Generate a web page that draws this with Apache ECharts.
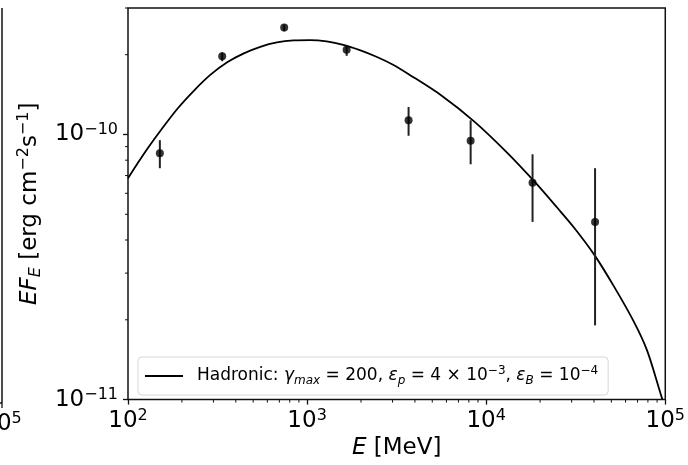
<!DOCTYPE html>
<html>
<head>
<meta charset="utf-8">
<script src="https://cdn.jsdelivr.net/npm/echarts@6/dist/echarts.min.js"></script>
<style>html,body{margin:0;padding:0;background:#fff;}#c{width:688px;height:465px;}</style>
</head>
<body>
<div id="c"></div>
<script>
// ---- data ----
const xEnergy = [150.6, 335.7, 745, 1663, 3687, 8188, 18150, 40540];
const yFlux   = [8.49e-11, 1.971e-10, 2.531e-10, 2.087e-10, 1.131e-10, 9.47e-11, 6.57e-11, 4.68e-11];
const yLow    = [7.46e-11, 1.89e-10, 2.45e-10, 1.98e-10, 9.89e-11, 7.72e-11, 4.68e-11, 1.905e-11];
const yHigh   = [9.52e-11, 2.04e-10, 2.6e-10, 2.17e-10, 1.27e-10, 1.131e-10, 8.42e-11, 7.46e-11];
const curveE  = [100, 113.2, 128.6, 152.5, 188.8, 233.8, 289.1, 358.0, 443.3, 548.1, 678.7, 840.4, 1039, 1286, 1593, 1970, 2439, 3020, 3673, 5623, 8623, 13200, 18570, 25020, 30980, 40010, 51680, 66730, 79110, 93800, 96370];
const curveF  = [6.84e-11, 7.79e-11, 8.86e-11, 1.038e-10, 1.251e-10, 1.465e-10, 1.681e-10, 1.872e-10, 2.023e-10, 2.141e-10, 2.224e-10, 2.263e-10, 2.269e-10, 2.243e-10, 2.178e-10, 2.081e-10, 1.965e-10, 1.833e-10, 1.692e-10, 1.404e-10, 1.116e-10, 8.49e-11, 6.65e-11, 5.28e-11, 4.45e-11, 3.53e-11, 2.673e-11, 1.968e-11, 1.533e-11, 1.062e-11, 1.0e-11];
const xTickValues = [1e2, 1e3, 1e4, 1e5];
const xTickExp    = ['2', '3', '4', '5'];
const yTickValues = [1e-11, 1e-10];
const yTickExp    = ['−11', '−10'];
const xMinorMant  = [2, 3, 4, 5, 6, 7, 8, 9];
const xMinorDecades = [1e2, 1e3, 1e4];
const yMinorTicks = [2e-11, 3e-11, 4e-11, 5e-11, 6e-11, 7e-11, 8e-11, 9e-11, 2e-10, 3e-10];
const seriesName = 'Hadronic';
const X_MIN = 1e2, X_MAX = 1e5, Y_MIN = 1e-11, Y_MAX = 3e-10;

const FONT = 'DejaVu Sans';
const INK = '#111';
const xMinorTicks = [];
xMinorDecades.forEach(d => xMinorMant.forEach(m => xMinorTicks.push(m * d)));

function expLabel(v, vals, exps) {
  for (let i = 0; i < vals.length; i++) {
    if (Math.abs(Math.log10(v) - Math.log10(vals[i])) < 1e-6) return '{b|10}{s|' + exps[i] + '}';
  }
  return '';
}
const tickRich = {
  b: { fontFamily: FONT, fontSize: 23, color: '#000', lineHeight: 26 },
  s: { fontFamily: FONT, fontSize: 16, color: '#000', lineHeight: 16, verticalAlign: 'top' }
};

const chart = echarts.init(document.getElementById('c'), null, { renderer: 'canvas' });
chart.setOption({
  animation: false,
  backgroundColor: '#fff',
  grid: { left: 128, top: 8, width: 540, height: 395, show: true, borderColor: INK, borderWidth: 1.5, backgroundColor: 'transparent' },
  xAxis: {
    type: 'log', logBase: 10, min: X_MIN, max: X_MAX,
    axisLine: { show: false },
    axisTick: { show: true, inside: false, length: 5, lineStyle: { color: INK, width: 1.3 } },
    splitLine: { show: false },
    axisLabel: { margin: 8, formatter: v => expLabel(v, xTickValues, xTickExp), rich: tickRich, showMinLabel: true, showMaxLabel: true },
    name: '{i|E}{t| [MeV]}', nameLocation: 'middle', nameGap: 37,
    nameTextStyle: { rich: { i: { fontFamily: FONT, fontSize: 23, fontStyle: 'italic', color: '#000' }, t: { fontFamily: FONT, fontSize: 23, color: '#000' } } }
  },
  yAxis: {
    type: 'log', logBase: 10, min: Y_MIN, max: Y_MAX,
    axisLine: { show: false },
    axisTick: { show: true, inside: false, length: 5, lineStyle: { color: INK, width: 1.3 } },
    splitLine: { show: false },
    axisLabel: { margin: 10, formatter: v => expLabel(v, yTickValues, yTickExp), rich: tickRich, showMaxLabel: false },
    name: '{i|EF}{sub|E}{t| [erg cm}{sup|−2}{t|s}{sup|−1}{t|]}', nameLocation: 'middle', nameRotate: 90, nameGap: 81,
    nameTextStyle: { rich: {
      i: { fontFamily: FONT, fontSize: 23, fontStyle: 'italic', color: '#000', lineHeight: 28 },
      t: { fontFamily: FONT, fontSize: 23, color: '#000', lineHeight: 28 },
      sub: { fontFamily: FONT, fontSize: 16, fontStyle: 'italic', color: '#000', lineHeight: 16, verticalAlign: 'bottom' },
      sup: { fontFamily: FONT, fontSize: 16, color: '#000', lineHeight: 16, verticalAlign: 'top' }
    } }
  },
  legend: {
    left: 138, top: 357, orient: 'horizontal',
    padding: [8, 10, 8, 7],
    backgroundColor: 'rgba(255,255,255,0.8)', borderColor: '#d6d6d6', borderWidth: 1, borderRadius: 4,
    itemWidth: 38, itemHeight: 2,
    data: [{ name: seriesName, icon: 'rect' }],
    formatter: () => '{sp|}{t|Hadronic: }{i|γ}{sub|max}{t| = 200, }{i|ε}{sub|p}{t| = 4 × 10}{sup|−3}{t|, }{i|ε}{sub|B}{t| = 10}{sup|−4}',
    textStyle: { rich: {
      sp: { width: 9 },
      t: { fontFamily: FONT, fontSize: 17, color: '#000', lineHeight: 22 },
      i: { fontFamily: FONT, fontSize: 17, fontStyle: 'italic', color: '#000', lineHeight: 22 },
      sub: { fontFamily: FONT, fontSize: 12, fontStyle: 'italic', color: '#000', lineHeight: 12, verticalAlign: 'bottom' },
      sup: { fontFamily: FONT, fontSize: 12, color: '#000', lineHeight: 12, verticalAlign: 'top' }
    } }
  },
  graphic: [
    { type: 'line', shape: { x1: 2, y1: 8, x2: 2, y2: 403 }, style: { stroke: INK, lineWidth: 1.5 } },
    { type: 'line', shape: { x1: 0, y1: 403, x2: 2, y2: 403 }, style: { stroke: INK, lineWidth: 1.5 } },
    { type: 'line', shape: { x1: 2, y1: 403, x2: 2, y2: 408 }, style: { stroke: INK, lineWidth: 1.3 } },
    { type: 'text', x: 2, y: 411, style: { text: '{b|10}{s|5}', rich: tickRich, align: 'center', verticalAlign: 'top' } }
  ],
  series: [
    {
      name: seriesName, type: 'line', data: curveE.map((e, i) => [e, curveF[i]]),
      showSymbol: false, symbol: 'none', smooth: 0.3, clip: true,
      lineStyle: { color: '#000', width: 1.8 }, itemStyle: { color: '#000' }, z: 3
    },
    {
      name: 'errbars', type: 'custom', silent: true, z: 4,
      data: xEnergy.map((e, i) => [e, yLow[i], yHigh[i]]),
      renderItem: (params, api) => {
        const a = api.coord([api.value(0), api.value(1)]);
        const b = api.coord([api.value(0), api.value(2)]);
        return { type: 'line', shape: { x1: a[0], y1: a[1], x2: b[0], y2: b[1] }, style: { stroke: '#222', lineWidth: 2 } };
      }
    },
    {
      name: 'points', type: 'scatter', data: xEnergy.map((e, i) => [e, yFlux[i]]),
      symbol: 'circle', symbolSize: 8, itemStyle: { color: '#000' }, z: 5, silent: true
    },
    {
      name: 'xminor', type: 'custom', silent: true, clip: false, z: 2,
      data: xMinorTicks.map(v => [v, Y_MIN]),
      renderItem: (params, api) => {
        const p = api.coord([api.value(0), api.value(1)]);
        return { type: 'line', shape: { x1: p[0], y1: p[1], x2: p[0], y2: p[1] + 3 }, style: { stroke: INK, lineWidth: 1 } };
      }
    },
    {
      name: 'yminor', type: 'custom', silent: true, clip: false, z: 2,
      data: yMinorTicks.map(v => [X_MIN, v]),
      renderItem: (params, api) => {
        const p = api.coord([api.value(0), api.value(1)]);
        return { type: 'line', shape: { x1: p[0] - 3, y1: p[1], x2: p[0], y2: p[1] }, style: { stroke: INK, lineWidth: 1 } };
      }
    }
  ]
});
</script>
</body>
</html>
